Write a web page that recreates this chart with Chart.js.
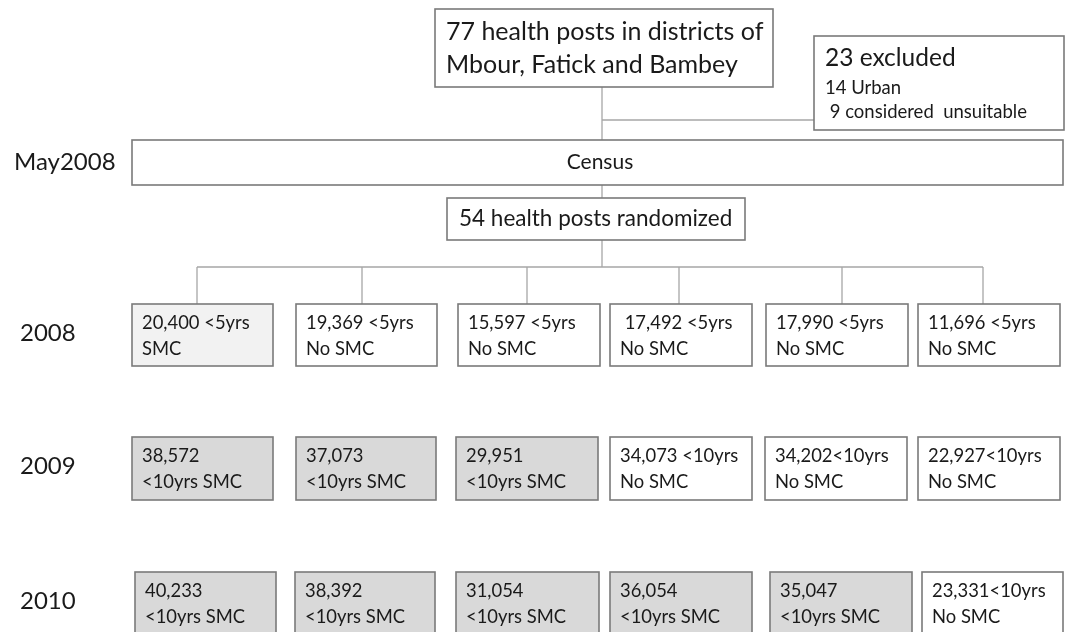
<!DOCTYPE html>
<html><head><meta charset="utf-8">
<script src="https://cdn.jsdelivr.net/npm/chart.js@4"></script>
<style>html,body{margin:0;padding:0;background:#fff;}canvas{display:block;}</style>
</head><body>
<canvas id="c" width="1068" height="632"></canvas>
<script>
// ---- data ----
const topBoxLines = ['77 health posts in districts of', 'Mbour, Fatick and Bambey'];
const excludedTitle = '23 excluded';
const excludedLines = ['14 Urban', ' 9 considered  unsuitable'];
const censusLabel = 'May2008';
const censusText = 'Census';
const randomizedText = '54 health posts randomized';
const years = ['2008', '2009', '2010'];
const line1_2008 = ['20,400 <5yrs', '19,369 <5yrs', '15,597 <5yrs', ' 17,492 <5yrs', '17,990 <5yrs', '11,696 <5yrs'];
const line2_2008 = ['SMC', 'No SMC', 'No SMC', 'No SMC', 'No SMC', 'No SMC'];
const line1_2009 = ['38,572', '37,073', '29,951', '34,073 <10yrs', '34,202<10yrs', '22,927<10yrs'];
const line2_2009 = ['<10yrs SMC', '<10yrs SMC', '<10yrs SMC', 'No SMC', 'No SMC', 'No SMC'];
const line1_2010 = ['40,233', '38,392', '31,054', '36,054', '35,047', '23,331<10yrs'];
const line2_2010 = ['<10yrs SMC', '<10yrs SMC', '<10yrs SMC', '<10yrs SMC', '<10yrs SMC', 'No SMC'];
// fill state: 0 = none, 1 = light, 2 = SMC grey
const fill2008 = [1, 0, 0, 0, 0, 0];
const fill2009 = [2, 2, 2, 0, 0, 0];
const fill2010 = [2, 2, 2, 2, 2, 0];

// ---- layout (positions in scale units) ----
const colX = {
  '2008': [[132,273],[296,437],[458,600],[610,752],[766,908],[918,1060]],
  '2009': [[132,273],[296,436],[456,598],[610,752],[765,907],[918,1060]],
  '2010': [[135,276],[295,435],[456,599],[610,752],[770,912],[922,1063]]
};
const rowY = {'2008':[304,366], '2009':[437,500], '2010':[572,634]};
const dropX = [197, 362, 527, 679, 842, 983];

const FONT = 'Lato, "Open Sans", sans-serif';
const fills = ['#ffffff', '#f2f2f2', '#d9d9d9'];

const rows = [
  {year:'2008', l1:line1_2008, l2:line2_2008, f:fill2008},
  {year:'2009', l1:line1_2009, l2:line2_2009, f:fill2009},
  {year:'2010', l1:line1_2010, l2:line2_2010, f:fill2010}
];

const flowPlugin = {
  id: 'flow',
  afterDraw(chart) {
    const ctx = chart.ctx, xs = chart.scales.x, ys = chart.scales.y;
    const X = v => xs.getPixelForValue(v), Y = v => ys.getPixelForValue(v);
    function box(x0, y0, x1, y1, fill) {
      ctx.save();
      ctx.fillStyle = fill;
      ctx.fillRect(X(x0), Y(y0), X(x1) - X(x0), Y(y1) - Y(y0));
      ctx.strokeStyle = '#7a7a7a';
      ctx.lineWidth = 1.6;
      ctx.strokeRect(X(x0), Y(y0), X(x1) - X(x0), Y(y1) - Y(y0));
      ctx.restore();
    }
    function line(pts) {
      ctx.save();
      ctx.strokeStyle = '#a6a6a6';
      ctx.lineWidth = 1.3;
      ctx.beginPath();
      pts.forEach((p, i) => i ? ctx.lineTo(X(p[0]), Y(p[1])) : ctx.moveTo(X(p[0]), Y(p[1])));
      ctx.stroke();
      ctx.restore();
    }
    function text(t, x, y, size, align) {
      ctx.save();
      ctx.fillStyle = '#1a1a1a';
      ctx.font = size + 'px ' + FONT;
      ctx.textAlign = align || 'left';
      ctx.textBaseline = 'middle';
      ctx.fillText(t, X(x), Y(y));
      ctx.restore();
    }
    // connectors
    line([[602, 87], [602, 140]]);
    line([[602, 120], [814, 120]]);
    line([[602, 185], [602, 198]]);
    line([[602, 240], [602, 267]]);
    line([[dropX[0], 267], [dropX[dropX.length - 1], 267]]);
    dropX.forEach(x => line([[x, 267], [x, 304]]));

    // top boxes
    box(435, 9, 773, 87, '#fff');
    text(topBoxLines[0], 446, 32, 25);
    text(topBoxLines[1], 446, 65, 25);
    box(814, 36, 1064, 130, '#fff');
    text(excludedTitle, 825, 58, 24.5);
    text(excludedLines[0], 825, 88, 18.5);
    text(excludedLines[1], 825, 112, 18.5);

    // census
    box(132, 140, 1063, 185, '#fff');
    text(censusLabel, 14, 162, 24);
    text(censusText, 600, 162, 21, 'center');
    box(447, 198, 745, 240, '#fff');
    text(randomizedText, 459, 219, 22.5);

    // year rows
    rows.forEach(r => {
      const [y0, y1] = rowY[r.year];
      text(r.year, 20, (y0 + y1) / 2 - 2, 24);
      colX[r.year].forEach((c, i) => {
        box(c[0], y0, c[1], y1, fills[r.f[i]]);
        text(r.l1[i], c[0] + 10, y0 + 19, 18.4);
        text(r.l2[i], c[0] + 10, y0 + 45, 18.4);
      });
    });
  }
};

new Chart(document.getElementById('c'), {
  type: 'scatter',
  data: { datasets: [{ data: [], pointRadius: 0 }] },
  options: {
    responsive: false,
    animation: false,
    layout: { padding: 0 },
    plugins: { legend: { display: false }, tooltip: { enabled: false } },
    scales: {
      x: { type: 'linear', min: 0, max: 1068, display: false },
      y: { type: 'linear', min: 0, max: 632, reverse: true, display: false }
    }
  },
  plugins: [flowPlugin]
});
</script>
</body></html>
